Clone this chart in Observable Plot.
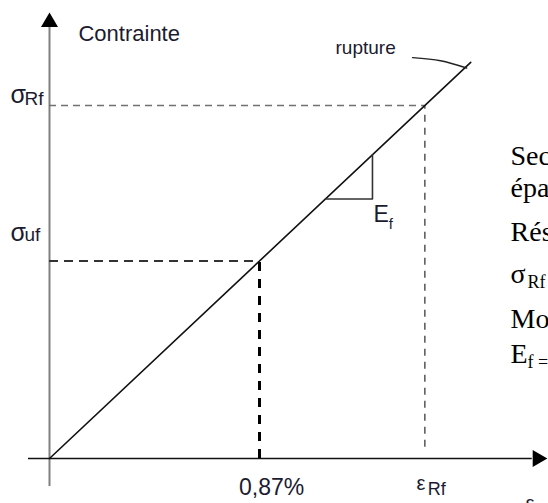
<!DOCTYPE html>
<html><head><meta charset="utf-8">
<script src="https://cdn.jsdelivr.net/npm/d3@7"></script>
<script src="https://cdn.jsdelivr.net/npm/@observablehq/plot@0.6"></script>
<style>
html,body{margin:0;padding:0;background:#fff;overflow:hidden;}
#chart svg{display:block;}
</style></head><body><div id="chart"></div>
<script>
// strain (%) and stress (relative units, E_f = 1)
const strainMarks = [0.87, 1.555];          // ε_uf , ε_Rf
const strainLabels = ["0,87%", "ε"];
const stressMarks = [0.87, 1.555];          // σ_uf , σ_Rf
const curveStrain = [0, 1.745];             // origin -> rupture
const curveStress = [0, 1.745];
const slopeStrain = [1.143, 1.338, 1.338];  // E_f triangle
const slopeStress = [1.143, 1.143, 1.338];
const leaderStrain = [1.504, 1.62, 1.728];  // "rupture" leader
const leaderStress = [1.766, 1.752, 1.72];
const sideLines = ["Section", "épaisseur", "Résistance", "σ", "Module", "E"];
const sideBase = [1.295, 1.15, 0.956, 0.771, 0.577, 0.4185];

const ink = "#1b1b30";
const sans = "Liberation Sans, Arial, sans-serif";
const serif = "Liberation Serif, Times New Roman, serif";

const curve = curveStrain.map((x, i) => ({x, y: curveStress[i]}));
const slope = slopeStrain.map((x, i) => ({x, y: slopeStress[i]}));
const leader = leaderStrain.map((x, i) => ({x, y: leaderStress[i]}));
const side = sideLines.map((t, i) => ({t, y: sideBase[i]}));

const T = (data, o) => Plot.text(data, {fontFamily: sans, fill: ink, lineAnchor: "bottom", textAnchor: "start", ...o});

const chart = Plot.plot({
  width: 548, height: 503, margin: 0,
  x: {domain: [0, 0.87], range: [49, 259], axis: null},
  y: {domain: [0, 0.87], range: [458, 260.5], axis: null},
  marks: [
    // axes
    Plot.ruleX([0], {y1: -0.123, y2: 1.9, stroke: "#808080", strokeWidth: 2}),
    Plot.ruleY([0], {x1: -0.087, x2: 2.0, stroke: "#111", strokeWidth: 1.6}),
    Plot.dot([0], {x: 0, y: 1.922, symbol: "triangle", r: 6.3, fill: "#000", stroke: null}),
    Plot.dot([0], {x: 2.022, y: 0, symbol: "triangle", r: 6.3, fill: "#000", stroke: null, rotate: 90}),
    // guides for σRf / εRf
    Plot.ruleY([stressMarks[1]], {x1: 0, x2: strainMarks[1], stroke: "#707070", strokeWidth: 1.6, strokeDasharray: "7,5"}),
    Plot.ruleX([strainMarks[1]], {y1: 0.05, y2: stressMarks[1], stroke: "#555", strokeWidth: 1.5, strokeDasharray: "7,6"}),
    // guides for σuf / 0,87%
    Plot.ruleY([stressMarks[0]], {x1: 0, x2: strainMarks[0], stroke: "#333", strokeWidth: 2.2, strokeDasharray: "9,6"}),
    Plot.ruleX([strainMarks[0]], {y1: 0, y2: stressMarks[0], stroke: "#000", strokeWidth: 3, strokeDasharray: "9,8"}),
    // curve
    Plot.line(curve, {x: "x", y: "y", stroke: "#111", strokeWidth: 1.6}),
    Plot.line(slope, {x: "x", y: "y", stroke: "#333", strokeWidth: 1.6}),
    Plot.line(leader, {x: "x", y: "y", stroke: "#222", strokeWidth: 1.4, curve: "natural"}),
    // labels
    T([0], {x: 0.12, y: 1.841, text: () => "Contrainte", fontSize: 22}),
    T([0], {x: 1.185, y: 1.784, text: () => "rupture", fontSize: 19}),
    T([0], {x: -0.1616, y: 1.564, text: () => "σ", fontSize: 25}),
    T([0], {x: -0.1035, y: 1.555, text: () => "Rf", fontSize: 19}),
    T([0], {x: -0.1616, y: 0.96, text: () => "σ", fontSize: 25}),
    T([0], {x: -0.1035, y: 0.956, text: () => "uf", fontSize: 19}),
    T([0], {x: 1.342, y: 1.04, text: () => "E", fontSize: 23}),
    T([0], {x: 1.405, y: 1.013, text: () => "f", fontSize: 15}),
    T([0], {x: 0.92, y: -0.1586, text: () => strainLabels[0], fontSize: 23, textAnchor: "middle"}),
    T([0], {x: 1.52, y: -0.1366, text: () => strainLabels[1], fontSize: 20}),
    T([0], {x: 1.567, y: -0.1586, text: () => "Rf", fontSize: 18}),
    T([0], {x: 1.972, y: -0.2247, text: () => "ε", fontSize: 20}),
    // side text (document body, cropped by the frame)
    Plot.text(side, {x: 1.91, y: "y", text: "t", fontFamily: serif, fontSize: 28, fill: "#000", textAnchor: "start", lineAnchor: "bottom"}),
    Plot.text([0], {x: 1.98, y: 0.753, text: () => "Rf", fontFamily: serif, fontSize: 18, fill: "#000", textAnchor: "start", lineAnchor: "bottom"}),
    Plot.text([0], {x: 1.98, y: 0.40, text: () => "f =", fontFamily: serif, fontSize: 18, fill: "#000", textAnchor: "start", lineAnchor: "bottom"})
  ]
});
document.getElementById("chart").append(chart);
</script></body></html>
